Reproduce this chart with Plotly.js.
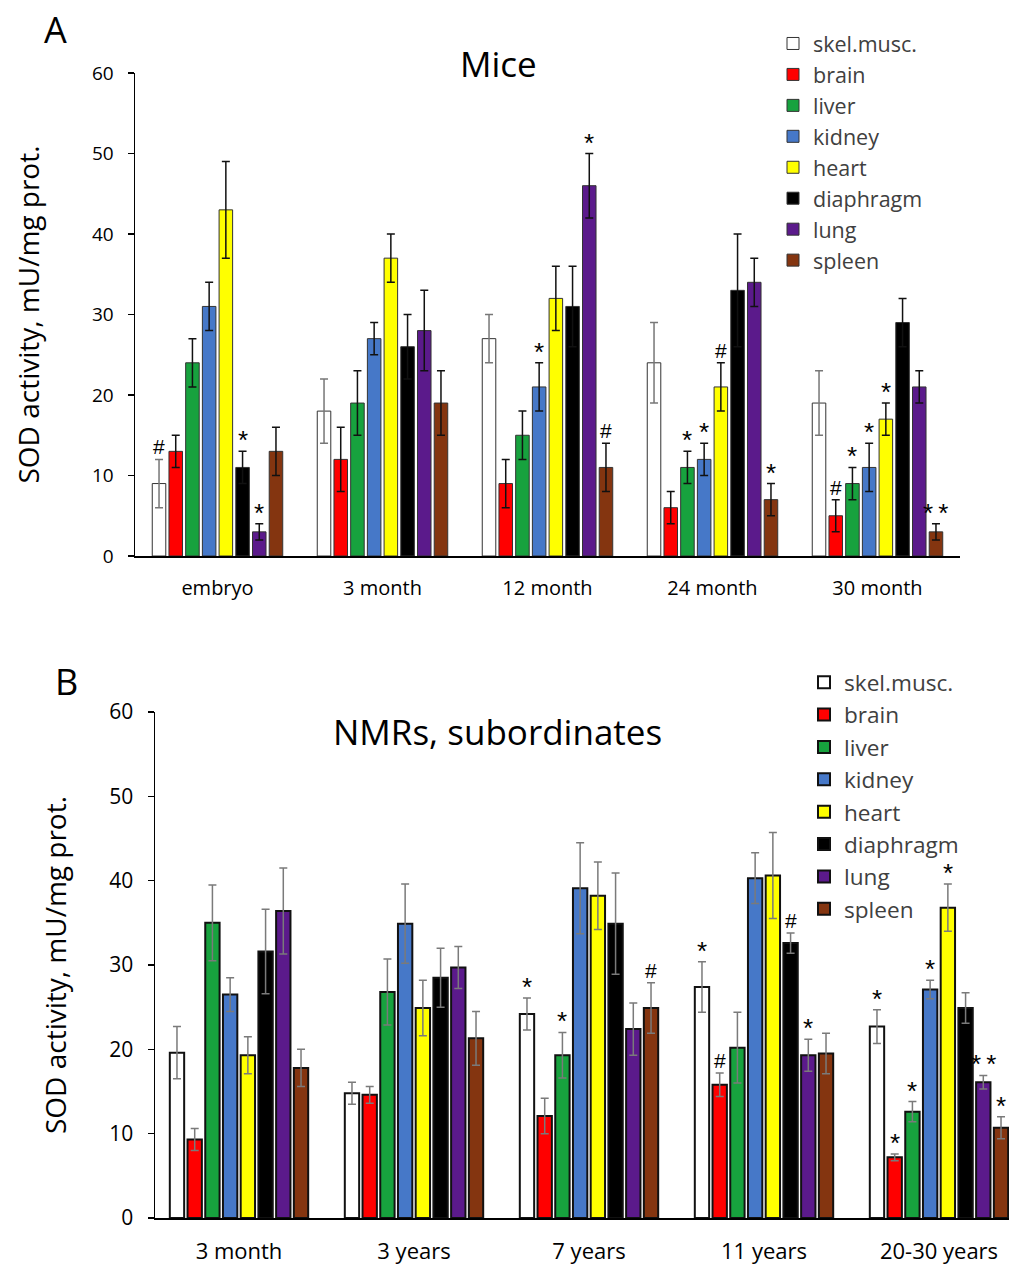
<!DOCTYPE html>
<html><head><meta charset="utf-8">
<script src="https://cdn.plot.ly/plotly-3.0.1.min.js"></script>
<style>html,body{margin:0;padding:0;background:#fff;}#chart{width:1009px;height:1273px;}</style>
</head><body><div id="chart"></div>
<script>
// ---------- DATA ----------
const seriesNames = ['skel.musc.','brain','liver','kidney','heart','diaphragm','lung','spleen'];

const miceCategories = ['embryo','3 month','12 month','24 month','30 month'];
const miceSkel      = [9, 18, 27, 24, 19];
const miceBrain     = [13, 12, 9, 6, 5];
const miceLiver     = [24, 19, 15, 11, 9];
const miceKidney    = [31, 27, 21, 12, 11];
const miceHeart     = [43, 37, 32, 21, 17];
const miceDiaphragm = [11, 26, 31, 33, 29];
const miceLung      = [3, 28, 46, 34, 21];
const miceSpleen    = [13, 19, 11, 7, 3];

const miceSkelErr      = [3, 4, 3, 5, 4];
const miceBrainErr     = [2, 4, 3, 2, 2];
const miceLiverErr     = [3, 4, 3, 2, 2];
const miceKidneyErr    = [3, 2, 3, 2, 3];
const miceHeartErr     = [6, 3, 4, 3, 2];
const miceDiaphragmErr = [2, 4, 5, 7, 3];
const miceLungErr      = [1, 5, 4, 3, 2];
const miceSpleenErr    = [3, 4, 3, 2, 1];

const miceSkelSig      = ['#', '', '', '', ''];
const miceBrainSig     = ['', '', '', '', '#'];
const miceLiverSig     = ['', '', '', '*', '*'];
const miceKidneySig    = ['', '', '*', '*', '*'];
const miceHeartSig     = ['', '', '', '#', '*'];
const miceDiaphragmSig = ['*', '', '', '', ''];
const miceLungSig      = ['*', '', '*', '', ''];
const miceSpleenSig    = ['', '', '#', '*', '**'];

const nmrCategories = ['3 month','3 years','7 years','11 years','20-30 years'];
const nmrSkel      = [19.6, 14.8, 24.2, 27.4, 22.7];
const nmrBrain     = [9.3, 14.6, 12.1, 15.8, 7.2];
const nmrLiver     = [35.0, 26.8, 19.3, 20.2, 12.6];
const nmrKidney    = [26.5, 34.9, 39.1, 40.3, 27.1];
const nmrHeart     = [19.3, 24.9, 38.2, 40.6, 36.8];
const nmrDiaphragm = [31.6, 28.5, 34.9, 32.6, 24.9];
const nmrLung      = [36.4, 29.7, 22.4, 19.3, 16.1];
const nmrSpleen    = [17.8, 21.3, 24.9, 19.5, 10.7];

const nmrSkelErr      = [3.1, 1.3, 1.9, 3.0, 2.0];
const nmrBrainErr     = [1.3, 1.0, 2.1, 1.4, 0.4];
const nmrLiverErr     = [4.5, 3.9, 2.7, 4.2, 1.2];
const nmrKidneyErr    = [2.0, 4.7, 5.4, 3.0, 1.1];
const nmrHeartErr     = [2.2, 3.3, 4.0, 5.1, 2.8];
const nmrDiaphragmErr = [5.0, 3.5, 6.0, 1.2, 1.8];
const nmrLungErr      = [5.1, 2.5, 3.1, 1.9, 0.8];
const nmrSpleenErr    = [2.2, 3.2, 3.0, 2.4, 1.3];

const nmrSkelSig      = ['', '', '*', '*', '*'];
const nmrBrainSig     = ['', '', '', '#', '*'];
const nmrLiverSig     = ['', '', '*', '', '*'];
const nmrKidneySig    = ['', '', '', '', '*'];
const nmrHeartSig     = ['', '', '', '', '*'];
const nmrDiaphragmSig = ['', '', '', '#', ''];
const nmrLungSig      = ['', '', '', '*', '**'];
const nmrSpleenSig    = ['', '', '#', '', '*'];

// ---------- STYLE ----------
const seriesColors = ['#ffffff','#ff0000','#17a23e','#4678c8','#ffff00','#000000','#5b1a8b','#843510'];
const FONT = '"Open Sans", sans-serif';
const SIGFONT = '"Liberation Sans", Arial, sans-serif';
const BARGAP = 0.19, BARGROUPGAP = 0.19;

const miceVals = [miceSkel, miceBrain, miceLiver, miceKidney, miceHeart, miceDiaphragm, miceLung, miceSpleen];
const miceErrs = [miceSkelErr, miceBrainErr, miceLiverErr, miceKidneyErr, miceHeartErr, miceDiaphragmErr, miceLungErr, miceSpleenErr];
const miceSigs = [miceSkelSig, miceBrainSig, miceLiverSig, miceKidneySig, miceHeartSig, miceDiaphragmSig, miceLungSig, miceSpleenSig];
const nmrVals = [nmrSkel, nmrBrain, nmrLiver, nmrKidney, nmrHeart, nmrDiaphragm, nmrLung, nmrSpleen];
const nmrErrs = [nmrSkelErr, nmrBrainErr, nmrLiverErr, nmrKidneyErr, nmrHeartErr, nmrDiaphragmErr, nmrLungErr, nmrSpleenErr];
const nmrSigs = [nmrSkelSig, nmrBrainSig, nmrLiverSig, nmrKidneySig, nmrHeartSig, nmrDiaphragmSig, nmrLungSig, nmrSpleenSig];

const traces = [];
const annotations = [];
const N = seriesNames.length;
function offset(i){ const w = (1 - BARGAP) / N; return -(1 - BARGAP) / 2 + (i + 0.5) * w; }

function addPanel(cats, vals, errs, sigs, xa, ya, legendId, lineW, lineC, errColorFn){
  for (let i = 0; i < N; i++){
    traces.push({
      type: 'bar', name: seriesNames[i], x: cats, y: vals[i],
      xaxis: xa, yaxis: ya, legend: legendId,
      marker: {color: seriesColors[i], line: {color: lineC, width: lineW}},
      error_y: {type: 'data', array: errs[i], visible: true, color: errColorFn(i), thickness: 1.5, width: 4},
      hoverinfo: 'skip'
    });
    for (let j = 0; j < cats.length; j++){
      const s = sigs[i][j];
      if (s){
        const isStar = s.indexOf('*') >= 0;
        annotations.push({
          xref: xa, yref: ya, x: j + offset(i), y: vals[i][j] + errs[i][j],
          text: isStar ? s.split('').join('\u2009') : s,
          showarrow: false, yanchor: 'bottom', yshift: isStar ? -6 : -1,
          font: {family: SIGFONT, size: isStar ? 26 : 21, color: '#000000'}
        });
      }
    }
  }
}
addPanel(miceCategories, miceVals, miceErrs, miceSigs, 'x', 'y', 'legend', 1, '#333', i => i === 0 ? '#777' : '#111');
addPanel(nmrCategories, nmrVals, nmrErrs, nmrSigs, 'x2', 'y2', 'legend2', 2, '#111', i => '#7a7a7a');

const W = 1009, H = 1273;
function px(x){ return x / W; }
function py(y){ return 1 - y / H; }

annotations.push(
  {xref:'paper', yref:'paper', x: px(55), y: py(30), xanchor:'center', yanchor:'middle', text:'A', showarrow:false, font:{family:FONT, size:36, color:'#000'}},
  {xref:'paper', yref:'paper', x: px(66), y: py(682), xanchor:'center', yanchor:'middle', text:'B', showarrow:false, font:{family:FONT, size:36, color:'#000'}},
  {xref:'paper', yref:'paper', x: px(498), y: py(64), xanchor:'center', yanchor:'middle', text:'Mice', showarrow:false, font:{family:FONT, size:35, color:'#000'}},
  {xref:'paper', yref:'paper', x: px(497), y: py(731), xanchor:'center', yanchor:'middle', text:'NMRs, subordinates', showarrow:false, font:{family:FONT, size:35, color:'#000'}}
);

const axisCommon = {showgrid:false, zeroline:false, showline:true, linecolor:'#000', linewidth:1.5, fixedrange:true};

const layout = {
  width: W, height: H, margin: {l:0, r:0, t:0, b:0},
  paper_bgcolor: '#fff', plot_bgcolor: 'rgba(0,0,0,0)',
  barmode: 'group', bargap: BARGAP, bargroupgap: BARGROUPGAP,
  font: {family: FONT, color: '#000'},
  xaxis: Object.assign({}, axisCommon, {
    domain: [px(135), px(960)], anchor: 'y', type: 'category', range: [-0.5, 4.5],
    ticks: '', tickfont: {family: FONT, size: 20, color: '#000'}, ticklabelstandoff: 13
  }),
  yaxis: Object.assign({}, axisCommon, {
    domain: [py(556), py(73)], anchor: 'x', range: [0, 60], dtick: 10,
    ticks: 'outside', ticklen: 6, tickwidth: 1.5, tickcolor: '#000',
    tickfont: {family: FONT, size: 19, color: '#000'}, ticklabelstandoff: 10,
    title: {text: 'SOD activity, mU/mg prot.', font: {family: FONT, size: 28, color: '#000'}, standoff: 44}
  }),
  xaxis2: Object.assign({}, axisCommon, {
    domain: [px(155), 1], anchor: 'y2', type: 'category', range: [-0.48, 4.40],
    ticks: '', tickfont: {family: FONT, size: 22, color: '#000'}, ticklabelstandoff: 13
  }),
  yaxis2: Object.assign({}, axisCommon, {
    domain: [py(1218), py(712)], anchor: 'x2', range: [0, 60], dtick: 10,
    ticks: 'outside', ticklen: 6, tickwidth: 1.5, tickcolor: '#000',
    tickfont: {family: FONT, size: 21, color: '#000'}, ticklabelstandoff: 10,
    title: {text: 'SOD activity, mU/mg prot.', font: {family: FONT, size: 28, color: '#000'}, standoff: 34}
  }),
  legend: {x: px(773), y: py(23), xanchor: 'left', yanchor: 'top', bgcolor: 'rgba(0,0,0,0)',
           font: {family: FONT, size: 21.5, color: '#404040'}, tracegroupgap: 0, itemclick: false, itemdoubleclick: false},
  legend2: {x: px(804), y: py(661), xanchor: 'left', yanchor: 'top', bgcolor: 'rgba(0,0,0,0)',
           font: {family: FONT, size: 22.6, color: '#404040'}, tracegroupgap: 0, itemclick: false, itemdoubleclick: false},
  annotations: annotations,
  showlegend: true
};

Plotly.newPlot('chart', traces, layout, {staticPlot: true, displayModeBar: false});
</script>
</body></html>
